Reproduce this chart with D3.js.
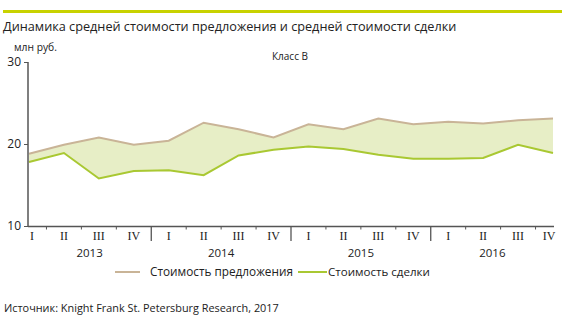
<!DOCTYPE html>
<html><head><meta charset="utf-8">
<script src="https://cdn.jsdelivr.net/npm/d3@7"></script>
<style>body{margin:0;background:#fff}svg{display:block}text{font-family:"Open Sans",sans-serif;fill:#222}</style>
</head><body>
<script>
const years = ["2013","2014","2015","2016"];
const quarters = ["I","II","III","IV"];
const offerValues = [18.8,19.9,20.8,19.9,20.4,22.6,21.8,20.8,22.4,21.8,23.1,22.4,22.7,22.5,22.9,23.1];
const dealValues  = [17.8,18.9,15.8,16.7,16.8,16.2,18.6,19.3,19.7,19.4,18.7,18.2,18.2,18.3,19.9,18.9];
const yTicks = [10,20,30];
const seriesNames = ["Стоимость предложения","Стоимость сделки"];
const title = "Динамика средней стоимости предложения и средней стоимости сделки";
const unit = "млн руб.";
const subtitle = "Класс В";
const source = "Источник: Knight Frank St. Petersburg Research, 2017";

const W=569,H=332;
const svg=d3.select("body").append("svg").attr("width",W).attr("height",H);
const colOffer="#c9b497", colDeal="#a9c832", colFill="#e7eec6", colAxis="#555";

function fit(sel,target){const n=sel.node();let fs=parseFloat(sel.attr("font-size"));const w=n.getComputedTextLength();sel.attr("font-size",(fs*target/w).toFixed(2));}

svg.append("rect").attr("x",3).attr("y",10).attr("width",559).attr("height",3).attr("fill","#c8d200");
fit(svg.append("text").attr("x",3).attr("y",31).attr("font-size",15).text(title),454);
fit(svg.append("text").attr("x",14).attr("y",51).attr("font-size",10).text(unit),43);
svg.append("text").attr("x",290).attr("y",60).attr("font-size",10).attr("text-anchor","middle").text(subtitle);

const cats=[];years.forEach(y=>quarters.forEach(q=>cats.push(y+"-"+q)));
const x=d3.scalePoint().domain(cats).range([29,553]);
const y=d3.scaleLinear().domain([10,30]).range([226,62]);

const area=d3.area().x((d,i)=>x(cats[i])).y0((d,i)=>y(dealValues[i])).y1(d=>y(d));
svg.append("path").datum(offerValues).attr("d",area).attr("fill",colFill);
const line=d3.line().x((d,i)=>x(cats[i])).y(d=>y(d));
svg.append("path").datum(offerValues).attr("d",line).attr("fill","none").attr("stroke",colOffer).attr("stroke-width",2);
svg.append("path").datum(dealValues).attr("d",line).attr("fill","none").attr("stroke",colDeal).attr("stroke-width",2);

// y axis
const ya=svg.append("g").attr("transform","translate(28,0)").call(d3.axisLeft(y).tickValues(yTicks).tickSize(4).tickPadding(3));
ya.select(".domain").attr("stroke",colAxis).attr("stroke-width",1.5).attr("d","M0,62V226.5");
ya.selectAll("line").attr("stroke",colAxis);
ya.selectAll("text").attr("font-size",12).style("font-family","'Open Sans',sans-serif").attr("fill","#222");

// x axis
const step=x.step();
svg.append("line").attr("x1",28).attr("x2",554).attr("y1",226.5).attr("y2",226.5).attr("stroke",colAxis).attr("stroke-width",1.5);
cats.forEach((c,i)=>{
  if(i===cats.length-1) return;
  const xx=x(c)+step/2;
  const sep=(i%4===3);
  svg.append("line").attr("x1",xx).attr("x2",xx).attr("y1",226).attr("y2",sep?241:229.5).attr("stroke",colAxis).attr("stroke-width",sep?1.3:1);
});
cats.forEach((c,i)=>{
  svg.append("text").attr("x",x(c)+(i===0?3:(i===cats.length-1?-4:0))).attr("y",240).attr("text-anchor","middle")
   .attr("font-size",12).style("font-family","'Liberation Serif',serif").text(quarters[i%4]);
});
years.forEach((yr,k)=>{
  const x0=k===0?28:x(cats[k*4])-step/2, x1=k===3?554:x(cats[k*4+3])+step/2;
  svg.append("text").attr("x",(x0+x1)/2).attr("y",257).attr("text-anchor","middle").attr("font-size",11.5).text(yr);
});

// legend
const lg=[{c:colOffer,x0:115,x1:140,tx:150,tw:143},{c:colDeal,x0:298,x1:327,tx:328,tw:102}];
lg.forEach((l,i)=>{
  svg.append("line").attr("x1",l.x0).attr("x2",l.x1).attr("y1",272).attr("y2",272).attr("stroke",l.c).attr("stroke-width",2);
  fit(svg.append("text").attr("x",l.tx).attr("y",276).attr("font-size",11).text(seriesNames[i]),l.tw);
});
fit(svg.append("text").attr("x",4).attr("y",312).attr("font-size",12).text(source),275);
</script>
</body></html>
